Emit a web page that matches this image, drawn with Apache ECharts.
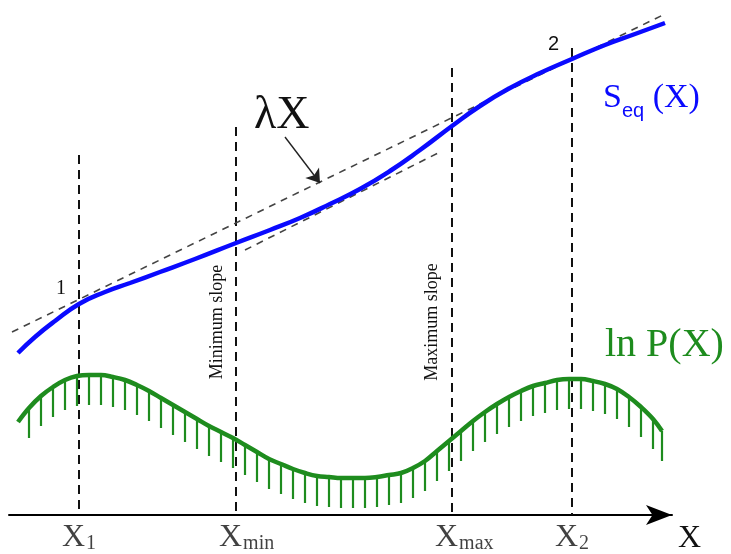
<!DOCTYPE html>
<html>
<head>
<meta charset="utf-8">
<title>Seq and ln P</title>
<script src="https://cdn.jsdelivr.net/npm/echarts@6/dist/echarts.min.js"></script>
<style>
    html, body { margin: 0; padding: 0; background: #fff; }
    #main { width: 731px; height: 554px; }
</style>
</head>
<body>
<div id="main"></div>
<script>
    var seqX = [18, 35, 55, 79, 105, 130, 160, 195, 236, 270, 300, 330, 360, 390, 420, 452, 480, 510, 540, 572, 605, 635, 665];
    var seqY = [353, 337, 321, 304, 292, 283, 272, 259, 243, 230, 218, 204, 189, 171, 150, 126, 106, 88, 73, 59, 45, 34, 23];

    var lambdaX = [12, 665];
    var lambdaY = [332, 14];
    var lowX = [245, 440];
    var lowY = [250, 152];

    var lnPX = [18, 29, 41, 53, 65, 77, 89, 101, 113, 125, 137, 149, 161, 173, 185, 197, 209, 221, 233, 245,
        257, 269, 281, 293, 305, 317, 329, 341, 353, 365, 377, 389, 401, 413, 425, 437, 449, 461, 473, 485,
        497, 509, 521, 533, 545, 557, 569, 581, 593, 605, 617, 629, 641, 653, 662];
    var lnPY = [422, 408, 396, 387, 380, 376, 375, 375, 377, 380, 385, 391, 398, 405, 412, 419, 426, 432, 438, 445,
        452, 459, 464, 469, 473, 476, 477, 478, 478, 478, 477, 475, 473, 468, 461, 451, 441, 431, 421, 412,
        404, 397, 391, 386, 383, 380, 379, 379, 381, 384, 389, 397, 407, 419, 431];

    var guideX = [79, 236, 452, 572];
    var guideTop = [155, 127, 68, 48];
    var guideSub = ['1', 'min', 'max', '2'];

    var arrowFrom = [285, 137];
    var arrowTo = [320, 183];

    var axisY = 515;

    function pairs(xs, ys) {
        var out = [];
        for (var i = 0; i < xs.length; i++) {
            out.push([xs[i], ys[i]]);
        }
        return out;
    }

    var green = '#1e8c1e';
    var blue = '#0a0aff';
    var serif = '"Liberation Serif", "DejaVu Serif", serif';

    var myChart = echarts.init(document.getElementById('main'));

    var option = {
        animation: false,
        grid: { left: 9, right: 59, top: 0, bottom: 39 },
        xAxis: {
            type: 'value',
            min: 9,
            max: 672,
            axisLine: {
                onZero: false,
                lineStyle: { color: '#000', width: 2 },
                symbol: ['none', 'arrow'],
                symbolSize: [15, 26]
            },
            axisTick: { show: false },
            axisLabel: { show: false },
            splitLine: { show: false }
        },
        yAxis: {
            type: 'value',
            inverse: true,
            min: 0,
            max: axisY,
            show: false
        },
        series: [
            {
                // vertical dashed guides
                type: 'custom',
                data: pairs(guideX, guideTop),
                renderItem: function (params, api) {
                    var top = api.coord([api.value(0), api.value(1)]);
                    var bottom = api.coord([api.value(0), axisY]);
                    return {
                        type: 'line',
                        shape: { x1: top[0], y1: top[1], x2: bottom[0], y2: bottom[1] },
                        style: { stroke: '#111', lineWidth: 2, lineDash: [9, 6] }
                    };
                },
                z: 1
            },
            {
                // ln P(X) hatching
                type: 'custom',
                data: pairs(lnPX, lnPY),
                renderItem: function (params, api) {
                    if (params.dataIndex === 0) return null;
                    var p = api.coord([api.value(0), api.value(1)]);
                    return {
                        type: 'line',
                        shape: { x1: p[0], y1: p[1], x2: p[0], y2: p[1] + 30 },
                        style: { stroke: green, lineWidth: 2.2 }
                    };
                },
                z: 2
            },
            {
                name: 'ln P(X)',
                type: 'line',
                data: pairs(lnPX, lnPY),
                smooth: 0.4,
                symbol: 'none',
                lineStyle: { color: green, width: 4.5 },
                z: 3
            },
            {
                name: 'lambda X',
                type: 'line',
                data: pairs(lambdaX, lambdaY),
                symbol: 'none',
                lineStyle: { color: '#444', width: 1.6, type: [7, 6] },
                markLine: {
                    silent: true,
                    symbol: ['none', 'arrow'],
                    symbolSize: 13,
                    label: { show: false },
                    lineStyle: { color: '#222', width: 1.4, type: 'solid' },
                    data: [[{ coord: arrowFrom }, { coord: arrowTo }]]
                },
                z: 4
            },
            {
                type: 'line',
                data: pairs(lowX, lowY),
                symbol: 'none',
                lineStyle: { color: '#444', width: 1.6, type: [7, 6] },
                z: 4
            },
            {
                name: 'Seq(X)',
                type: 'line',
                data: pairs(seqX, seqY),
                smooth: 0.5,
                symbol: 'none',
                lineStyle: { color: blue, width: 4.5 },
                z: 5
            },
            {
                // tick labels under the axis
                type: 'scatter',
                data: guideX.map(function (x, i) { return [x, axisY, guideSub[i]]; }),
                symbolSize: 0,
                silent: true,
                label: {
                    show: true,
                    position: [-17, 5],
                    align: 'left',
                    verticalAlign: 'top',
                    formatter: function (p) {
                        return '{m|X}{s|' + p.data[2] + '}';
                    },
                    rich: {
                        m: { fontFamily: serif, fontSize: 32, color: '#111', lineHeight: 34, verticalAlign: 'bottom' },
                        s: { fontFamily: serif, fontSize: 20, color: '#111', lineHeight: 10, verticalAlign: 'bottom', padding: [0, 0, 0, 1] }
                    }
                },
                z: 6
            }
        ],
        graphic: [
            { type: 'text', x: 678, y: 523, style: { text: 'X', font: '32px ' + serif, fill: '#111' } },
            { type: 'text', x: 254, y: 93, style: { text: 'λX', font: '46px ' + serif, fill: '#111' } },
            { type: 'text', x: 56, y: 279, style: { text: '1', font: '20px ' + serif, fill: '#111' } },
            { type: 'text', x: 548, y: 34, style: { text: '2', font: '20px "Liberation Sans", sans-serif', fill: '#111' } },
            {
                type: 'text', x: 217, y: 322, rotation: Math.PI / 2,
                style: { text: 'Minimum slope', font: '18px ' + serif, fill: '#111', align: 'center', verticalAlign: 'middle' }
            },
            {
                type: 'text', x: 432, y: 322, rotation: Math.PI / 2,
                style: { text: 'Maximum slope', font: '18px ' + serif, fill: '#111', align: 'center', verticalAlign: 'middle' }
            },
            {
                type: 'text', x: 603, y: 81,
                style: {
                    text: '{a|S}{b|eq}{a| (X)}',
                    rich: {
                        a: { fontFamily: serif, fontSize: 34, fill: blue, color: blue, verticalAlign: 'bottom' },
                        b: { fontFamily: '"Liberation Sans", sans-serif', fontSize: 20, fill: blue, color: blue, verticalAlign: 'bottom', padding: [0, 0, -6, 0] }
                    }
                }
            },
            { type: 'text', x: 605, y: 325, style: { text: 'ln P(X)', font: '40px ' + serif, fill: green } }
        ]
    };
    myChart.setOption(option);
</script>
</body>
</html>
